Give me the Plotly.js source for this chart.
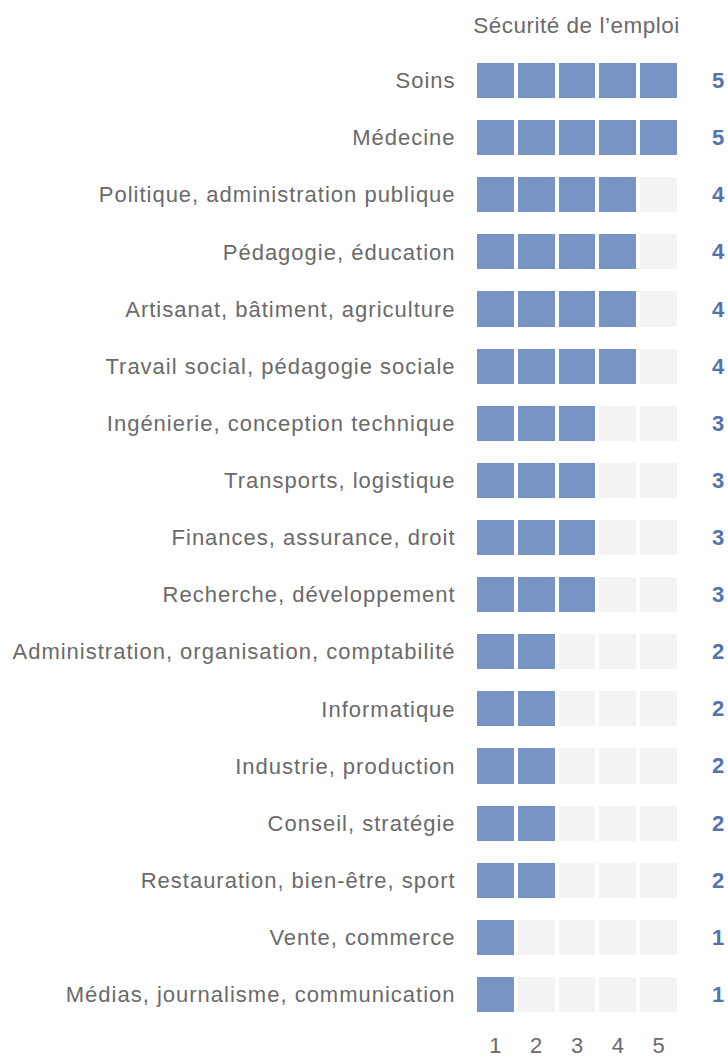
<!DOCTYPE html>
<html>
<head>
<meta charset="utf-8">
<script src="https://cdn.plot.ly/plotly-3.0.1.min.js"></script>
<style>
html,body{margin:0;padding:0;background:#fff;}
#chart{width:728px;height:1057px;}
#chart .ytick text{letter-spacing:1px;}
#chart .gtitle{letter-spacing:0.5px;}
</style>
</head>
<body>
<div id="chart"></div>
<script>
const categories = [
  "Soins",
  "Médecine",
  "Politique, administration publique",
  "Pédagogie, éducation",
  "Artisanat, bâtiment, agriculture",
  "Travail social, pédagogie sociale",
  "Ingénierie, conception technique",
  "Transports, logistique",
  "Finances, assurance, droit",
  "Recherche, développement",
  "Administration, organisation, comptabilité",
  "Informatique",
  "Industrie, production",
  "Conseil, stratégie",
  "Restauration, bien-être, sport",
  "Vente, commerce",
  "Médias, journalisme, communication"
];
const scores = [5, 5, 4, 4, 4, 4, 3, 3, 3, 3, 2, 2, 2, 2, 2, 1, 1];
const scaleSteps = [1, 2, 3, 4, 5];
const chartTitle = "Sécurité de l’emploi";

const z = categories.map((c, i) => scaleSteps.map(s => (s <= scores[i] ? 1 : 0)));

const textFont = "Liberation Sans, Arial, sans-serif";
const gray = "#6a6a6a";

const trace = {
  type: "heatmap",
  x: scaleSteps,
  y: categories,
  z: z,
  zmin: 0,
  zmax: 1,
  colorscale: [[0, "#f3f3f3"], [1, "#7794c4"]],
  showscale: false,
  xgap: 4,
  ygap: 22,
  hoverinfo: "skip"
};

const annotations = categories.map((c, i) => ({
  xref: "paper",
  yref: "y",
  x: (718 - 475) / 204,
  y: c,
  text: "<b>" + scores[i] + "</b>",
  showarrow: false,
  xanchor: "center",
  yanchor: "middle",
  font: { family: textFont, size: 22, color: "#5472ae" }
}));

const layout = {
  width: 728,
  height: 1057,
  margin: { l: 475, r: 49, t: 52, b: 34, pad: 0 },
  paper_bgcolor: "#ffffff",
  plot_bgcolor: "#ffffff",
  font: { family: textFont, size: 22, color: gray },
  title: {
    text: chartTitle,
    x: 576.5 / 728,
    xref: "container",
    xanchor: "center",
    y: 1 - 25 / 1057,
    yref: "container",
    yanchor: "middle",
    font: { family: textFont, size: 22.5, color: gray }
  },
  xaxis: {
    type: "linear",
    range: [0.5, 5.5],
    tickvals: scaleSteps,
    ticktext: scaleSteps.map(String),
    ticks: "outside",
    ticklen: 3,
    tickcolor: "rgba(0,0,0,0)",
    showgrid: false,
    zeroline: false,
    showline: false,
    fixedrange: true,
    tickfont: { family: textFont, size: 22, color: gray }
  },
  yaxis: {
    type: "category",
    autorange: "reversed",
    ticks: "outside",
    ticklen: 14,
    tickcolor: "rgba(0,0,0,0)",
    showgrid: false,
    zeroline: false,
    showline: false,
    fixedrange: true,
    tickfont: { family: textFont, size: 22, color: gray }
  },
  annotations: annotations
};

Plotly.newPlot("chart", [trace], layout, { displayModeBar: false, staticPlot: true });
</script>
</body>
</html>
